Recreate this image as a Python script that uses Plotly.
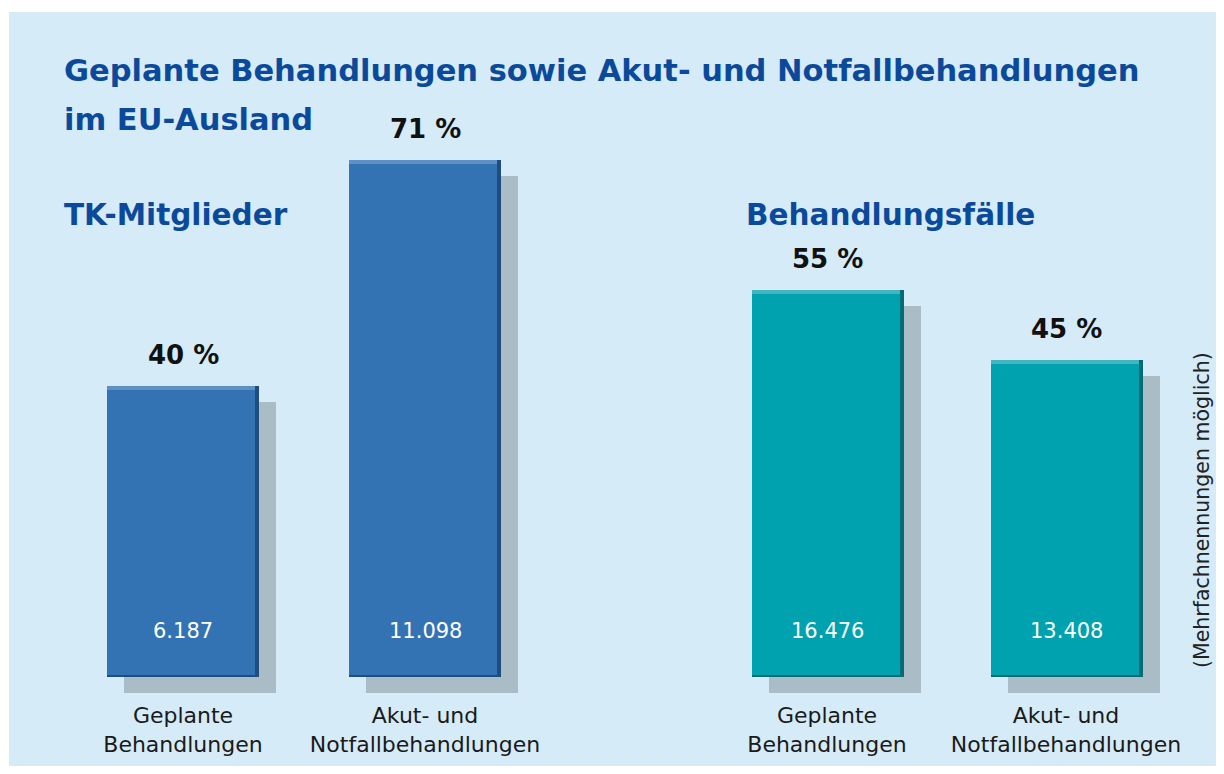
import plotly.graph_objects as go

# ---- data ----
categories = ["Geplante<br>Behandlungen", "Akut- und<br>Notfallbehandlungen"]
members_pct = [40, 71]
members_abs = ["6.187", "11.098"]
cases_pct = [55, 45]
cases_abs = ["16.476", "13.408"]

title_line1 = "Geplante Behandlungen sowie Akut- und Notfallbehandlungen"
title_line2 = "im EU-Ausland"
group_left = "TK-Mitglieder"
group_right = "Behandlungsfälle"
note = "(Mehrfachnennungen möglich)"

# ---- layout constants (page pixels; page body has an 8px margin) ----
PAGE_W, PAGE_H = 1224, 774
OFF = 8
W, H = PAGE_W - 2 * OFF, PAGE_H - 2 * OFF


def px(p):
    return (p - OFF) / W


def py(p):
    return 1 - (p - OFF) / H


BASE_PX = 677          # page row of value 0
AXIS_PX = 700          # page row of the (hidden) x axis line
SCALE_L = 7.278        # px per % (left group)
SCALE_R = 7.04         # px per % (right group)
SH_DX, SH_DY = 17, 16  # shadow offset px
EDGE = 4               # bevel edge thickness px

BLUE = "#3373b4"
BLUE_LIGHT = "#5f8fc4"
BLUE_DARK = "#1f4d7e"
TEAL = "#00a2b0"
TEAL_LIGHT = "#40b6c1"
TEAL_DARK = "#006c75"
SHADOW = "#aabcc6"
BG = "#d5ebf8"
TITLE_BLUE = "#0b4a9a"

left_dom = [px(62), px(546)]
right_dom = [px(707.5), px(1185.5)]
unit_l = (left_dom[1] - left_dom[0]) * W / 2
unit_r = (right_dom[1] - right_dom[0]) * W / 2
bw_l = 152 / unit_l
bw_r = 152 / unit_r

fig = go.Figure()


def bar(vals, color, xa, ya, width, offset, base=None):
    n = len(vals)
    fig.add_trace(go.Bar(
        x=categories, y=vals, base=base,
        width=[width] * n, offset=[offset] * n,
        marker=dict(color=color, line=dict(width=0)),
        xaxis=xa, yaxis=ya, hoverinfo="skip", showlegend=False))


def add_group(vals, color, light, dark, xa, ya, bw, unit, scale):
    dx = SH_DX / unit
    dy = SH_DY / scale
    ex = EDGE / unit
    ey = EDGE / scale
    # shadow
    bar(vals, SHADOW, xa, ya, bw, -bw / 2 + dx, base=[-dy] * len(vals))
    # main bar
    bar(vals, color, xa, ya, bw, -bw / 2)
    # top highlight
    bar([ey] * len(vals), light, xa, ya, bw, -bw / 2, base=[v - ey for v in vals])
    # bottom dark edge
    bar([ey * 0.6] * len(vals), dark, xa, ya, bw, -bw / 2, base=[0] * len(vals))
    # right dark edge
    bar(vals, dark, xa, ya, ex, bw / 2 - ex)


add_group(members_pct, BLUE, BLUE_LIGHT, BLUE_DARK, "x", "y", bw_l, unit_l, SCALE_L)
add_group(cases_pct, TEAL, TEAL_LIGHT, TEAL_DARK, "x2", "y2", bw_r, unit_r, SCALE_R)

ydom = [py(AXIS_PX), 1]
top_px = OFF
yr_l = [-(AXIS_PX - BASE_PX) / SCALE_L, (BASE_PX - top_px) / SCALE_L]
yr_r = [-(AXIS_PX - BASE_PX) / SCALE_R, (BASE_PX - top_px) / SCALE_R]

tickfont = dict(family="DejaVu Sans", size=22, color="#1a1a1a")
axis_common = dict(showgrid=False, zeroline=False, showline=False, ticks="",
                   fixedrange=True)

annotations = []
pct_font = dict(family="DejaVu Sans", size=26, color="#111111")
val_font = dict(family="DejaVu Sans", size=21, color="#ffffff")
for xr, yr, pcts, abss in [("x", "y", members_pct, members_abs),
                           ("x2", "y2", cases_pct, cases_abs)]:
    for c, p, a in zip(categories, pcts, abss):
        annotations.append(dict(xref=xr, yref=yr, x=c, y=p, text=f"<b>{p} %</b>",
                                showarrow=False, yanchor="bottom", yshift=14,
                                font=pct_font))
        annotations.append(dict(xref=xr, yref=yr, x=c, y=0, text=a,
                                showarrow=False, yanchor="bottom", yshift=32,
                                font=val_font))

title_font = dict(family="DejaVu Sans", size=30.5, color=TITLE_BLUE)
group_font = dict(family="DejaVu Sans", size=29.5, color=TITLE_BLUE)
annotations += [
    dict(xref="paper", yref="paper", x=px(62), y=py(70), text=f"<b>{title_line1}</b>",
         showarrow=False, xanchor="left", yanchor="middle", font=title_font),
    dict(xref="paper", yref="paper", x=px(62), y=py(120), text=f"<b>{title_line2}</b>",
         showarrow=False, xanchor="left", yanchor="middle", font=title_font),
    dict(xref="paper", yref="paper", x=px(62), y=py(215), text=f"<b>{group_left}</b>",
         showarrow=False, xanchor="left", yanchor="middle", font=group_font),
    dict(xref="paper", yref="paper", x=px(744), y=py(215), text=f"<b>{group_right}</b>",
         showarrow=False, xanchor="left", yanchor="middle", font=group_font),
    dict(xref="paper", yref="paper", x=1, y=py(510), text=note,
         showarrow=False, textangle=-90, xanchor="right", yanchor="middle",
         font=dict(family="DejaVu Sans", size=20.5, color="#222222")),
]

fig.update_layout(
    width=W, height=H,
    margin=dict(l=0, r=0, t=0, b=0),
    paper_bgcolor=BG, plot_bgcolor="rgba(0,0,0,0)",
    barmode="overlay", bargap=0,
    xaxis=dict(domain=left_dom, range=[-0.5, 1.5], tickfont=tickfont, anchor="y", **axis_common),
    xaxis2=dict(domain=right_dom, range=[-0.5, 1.5], tickfont=tickfont, anchor="y2", **axis_common),
    yaxis=dict(domain=ydom, range=yr_l, visible=False, anchor="x", **axis_common),
    yaxis2=dict(domain=ydom, range=yr_r, visible=False, anchor="x2", **axis_common),
    shapes=[
        # white page strips above / left of the light-blue panel
        dict(type="rect", xref="paper", yref="paper", x0=0, x1=1,
             y0=py(12), y1=1, fillcolor="white", line=dict(width=0), layer="below"),
        dict(type="rect", xref="paper", yref="paper", x0=0, x1=px(9),
             y0=0, y1=1, fillcolor="white", line=dict(width=0), layer="below"),
    ],
    annotations=annotations,
)

fig.write_html("out.html", config={"displayModeBar": False})
